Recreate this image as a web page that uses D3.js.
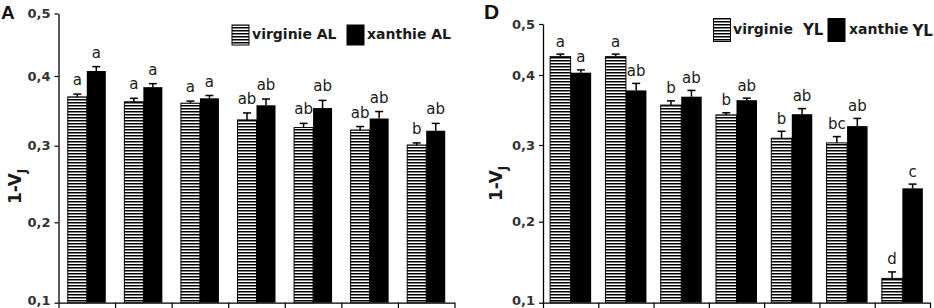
<!DOCTYPE html>
<html>
<head>
<meta charset="utf-8">
<script src="https://cdn.jsdelivr.net/npm/d3@7"></script>
<style>
  html, body { margin: 0; padding: 0; background: #fff; }
  svg { display: block; }
</style>
</head>
<body>
<svg id="chart" width="934" height="308"></svg>
<script>
// ---------- DATA ----------
const categories = ["1", "2", "3", "4", "5", "6", "7"];
const yTickValues = [0.1, 0.2, 0.3, 0.4, 0.5];

// Panel A
const seriesA = ["virginie AL", "xanthie AL"];
const virginieAL = [0.370, 0.363, 0.361, 0.337, 0.326, 0.3225, 0.301];
const virginieALerr = [0.004, 0.005, 0.003, 0.010, 0.006, 0.005, 0.003];
const xanthieAL = [0.408, 0.384, 0.368, 0.358, 0.354, 0.339, 0.3215];
const xanthieALerr = [0.007, 0.005, 0.004, 0.009, 0.011, 0.010, 0.0105];
const virginieALletters = ["a", "a", "a", "ab", "ab", "ab", "b"];
const xanthieALletters = ["a", "a", "a", "ab", "ab", "ab", "ab"];

// Panel D
const seriesD = ["virginie", "xanthie"];
const virginieYL = [0.436, 0.436, 0.357, 0.343, 0.3096, 0.303, 0.130];
const virginieYLerr = [0.005, 0.005, 0.006, 0.003, 0.010, 0.009, 0.008];
const xanthieYL = [0.4045, 0.378, 0.369, 0.364, 0.344, 0.327, 0.2435];
const xanthieYLerr = [0.0055, 0.010, 0.009, 0.003, 0.008, 0.011, 0.0055];
const virginieYLletters = ["a", "a", "b", "b", "b", "bc", "d"];
const xanthieYLletters = ["a", "ab", "ab", "ab", "ab", "ab", "c"];

// ---------- DRAW ----------
const svg = d3.select("#chart");
svg.append("rect").attr("width", 934).attr("height", 308).attr("fill", "#fff");

const defs = svg.append("defs");
const pat = defs.append("pattern")
  .attr("id", "hatch").attr("patternUnits", "userSpaceOnUse")
  .attr("width", 6).attr("height", 3);
pat.append("rect").attr("width", 6).attr("height", 3).attr("fill", "#fff");
pat.append("rect").attr("width", 6).attr("height", 1.5).attr("fill", "#000");

const TXT = "#1a1a1a";

function drawPanel(cfg) {
  const g = svg.append("g");
  const y = d3.scaleLinear().domain(yTickValues).range(cfg.yRange);
  const xb = d3.scaleBand().domain(categories).range([cfg.x0, cfg.x1]);
  const xl = d3.scaleLinear().domain([0, categories.length]).range([cfg.x0, cfg.x1]);
  const bw = cfg.barW;

  // y axis
  const ya = g.append("g").attr("transform", `translate(${cfg.x0},0)`)
    .call(d3.axisLeft(y).tickValues(yTickValues)
      .tickFormat(d => d3.format(".1f")(d).replace(".", ","))
      .tickSize(4).tickSizeOuter(0).tickPadding(4));
  ya.select(".domain").attr("stroke", "#000").attr("stroke-width", 1.3);
  ya.selectAll(".tick line").attr("stroke", "#000").attr("stroke-width", 1.2);
  ya.selectAll(".tick text").attr("fill", "#333")
    .style("font-family", "'DejaVu Sans', sans-serif").style("font-weight", "bold")
    .style("font-size", "13px")
    .attr("dy", d => d === 0.1 ? "0.1em" : "0.32em");

  // bottom axis
  const xa = g.append("g").attr("transform", `translate(0,${y(0.1)})`)
    .call(d3.axisBottom(xl).tickValues(d3.range(categories.length + 1))
      .tickFormat("").tickSize(6).tickSizeOuter(0));
  xa.select(".domain").attr("stroke", "#000").attr("stroke-width", 1.2);
  xa.selectAll(".tick line").attr("stroke", "#000").attr("stroke-width", 1.2);

  const series = [
    { vals: cfg.v1, errs: cfg.e1, letters: cfg.l1, hatched: true, off: -bw },
    { vals: cfg.v2, errs: cfg.e2, letters: cfg.l2, hatched: false, off: 0 }
  ];

  series.forEach(s => {
    const sg = g.append("g");
    categories.forEach((c, i) => {
      const cx = xb(c) + xb.bandwidth() / 2 + s.off;
      const v = s.vals[i], e = s.errs[i];
      const top = y(v), cap = y(v + e);
      const mid = cx + bw / 2;
      // error bar
      sg.append("line").attr("x1", mid).attr("x2", mid).attr("y1", top).attr("y2", cap)
        .attr("stroke", "#000").attr("stroke-width", 1.5);
      sg.append("line").attr("x1", mid - 4).attr("x2", mid + 4).attr("y1", cap).attr("y2", cap)
        .attr("stroke", "#000").attr("stroke-width", 1.5);
      // bar
      sg.append("rect").attr("x", cx).attr("y", top).attr("width", bw)
        .attr("height", y(0.1) - top)
        .attr("fill", s.hatched ? "url(#hatch)" : "#000")
        .attr("stroke", "#000").attr("stroke-width", s.hatched ? 1 : 0);
      // letter
      sg.append("text").attr("x", mid).attr("y", cap - cfg.letterGap)
        .attr("text-anchor", "middle").attr("fill", TXT)
        .style("font-family", "'DejaVu Sans', sans-serif").style("font-size", "15px")
        .text(s.letters[i]);
    });
  });

  // y label
  const lab = g.append("text")
    .attr("transform", `translate(${cfg.labX},${cfg.labY}) rotate(-90)`)
    .attr("fill", TXT)
    .style("font-family", "'DejaVu Sans', sans-serif").style("font-weight", "bold")
    .style("font-size", "17px");
  lab.append("tspan").text("1-V");
  lab.append("tspan").attr("dy", 5).style("font-size", "12px").text("J");

  // panel letter
  g.append("text").attr("x", cfg.pX).attr("y", cfg.pY).attr("fill", "#111")
    .style("font-family", "'Liberation Sans', Arial, sans-serif").style("font-weight", "bold")
    .style("font-size", cfg.pSize + "px").text(cfg.panel);

  // legend
  const lg = g.append("g");
  cfg.legend.forEach(L => {
    lg.append("rect").attr("x", L.bx).attr("y", L.by).attr("width", 17).attr("height", L.bh)
      .attr("fill", L.hatched ? "url(#hatch)" : "#000").attr("stroke", "#000").attr("stroke-width", 1);
    const t = lg.append("text").attr("x", L.tx).attr("y", L.ty).attr("fill", TXT)
      .style("font-family", "'DejaVu Sans', sans-serif").style("font-weight", "bold")
      .style("font-size", "14px");
    t.append("tspan").text(L.name);
    if (L.suffix) t.append("tspan").attr("dx", L.sdx).attr("dy", L.sdy || 0)
      .style("font-size", "15px").text(L.suffix);
  });
}

drawPanel({
  panel: "A", pX: 1, pY: 18.5, pSize: 19,
  x0: 58.5, x1: 454.5, yRange: [302.7, 222.3, 145.7, 76, 13.5], barW: 19,
  v1: virginieAL, e1: virginieALerr, l1: virginieALletters,
  v2: xanthieAL, e2: xanthieALerr, l2: xanthieALletters,
  letterGap: 9, labX: 21, labY: 204,
  legend: [
    { hatched: true, bx: 232, by: 25, bh: 20, tx: 252, ty: 39, name: seriesA[0] },
    { hatched: false, bx: 347, by: 25, bh: 20, tx: 367, ty: 39, name: seriesA[1] }
  ]
});

drawPanel({
  panel: "D", pX: 484, pY: 19, pSize: 21,
  x0: 543, x1: 930, yRange: [302.7, 221.7, 145, 75, 24], barW: 20.5,
  v1: virginieYL, e1: virginieYLerr, l1: virginieYLletters,
  v2: xanthieYL, e2: xanthieYLerr, l2: xanthieYLletters,
  letterGap: 7.5, labX: 502, labY: 201,
  legend: [
    { hatched: true, bx: 713.5, by: 18.5, bh: 23, tx: 733, ty: 34, name: seriesD[0], suffix: "YL", sdx: 10, sdy: 1 },
    { hatched: false, bx: 828, by: 18.5, bh: 23, tx: 849, ty: 34, name: seriesD[1], suffix: "YL", sdx: 4, sdy: 2 }
  ]
});
</script>
</body>
</html>
